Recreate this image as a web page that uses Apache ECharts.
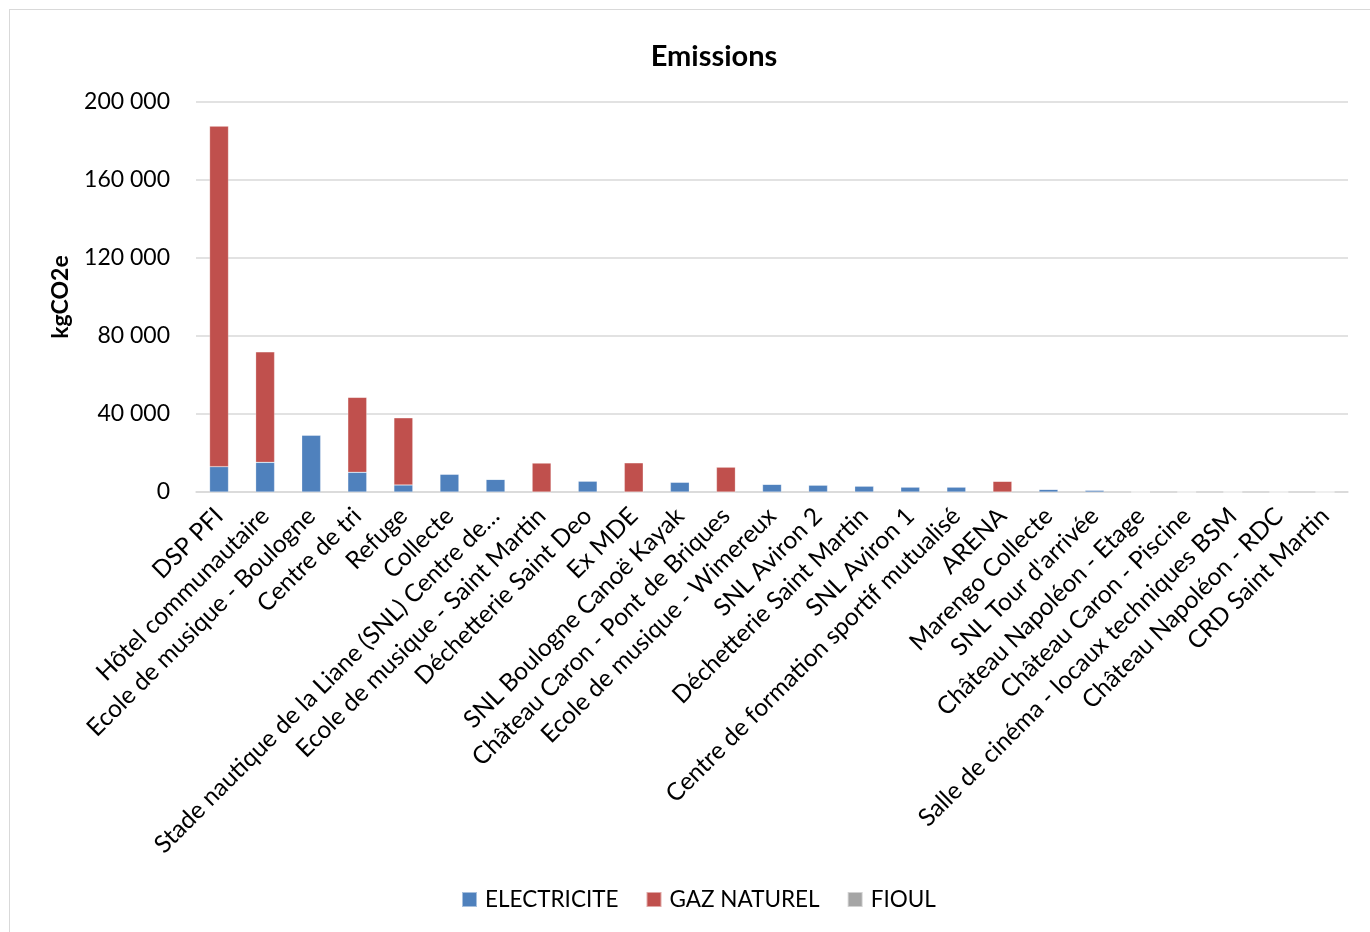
<!DOCTYPE html>
<html>
<head>
<meta charset="utf-8">
<script src="https://cdn.jsdelivr.net/npm/echarts@6/dist/echarts.min.js"></script>
<style>
  html, body { margin: 0; padding: 0; background: #fff; }
  #frame { position: absolute; left: 9px; top: 9px; width: 1370px; height: 940px; border: 1px solid #d9d9d9; box-sizing: border-box; }
  #chart { position: absolute; left: 0; top: 0; width: 1370px; height: 932px; }
</style>
</head>
<body>
<div id="frame"></div>
<div id="chart"></div>
<script>
// Sites, in descending order of total emissions
const sites = [
  'DSP PFI',
  'Hôtel communautaire',
  'Ecole de musique - Boulogne',
  'Centre de tri',
  'Refuge',
  'Collecte',
  'Stade nautique de la Liane (SNL) Centre de…',
  'Ecole de musique - Saint Martin',
  'Déchetterie Saint Deo',
  'Ex MDE',
  'SNL Boulogne Canoë Kayak',
  'Château Caron - Pont de Briques',
  'Ecole de musique - Wimereux',
  'SNL Aviron 2',
  'Déchetterie Saint Martin',
  'SNL Aviron 1',
  'Centre de formation sportif mutualisé',
  'ARENA',
  'Marengo Collecte',
  "SNL Tour d'arrivée",
  'Château Napoléon - Etage',
  'Château Caron - Piscine',
  'Salle de cinéma - locaux techniques BSM',
  'Château Napoléon - RDC',
  'CRD Saint Martin'
];

// Emissions in kgCO2e per energy source
const electricite = [13000, 15200, 29200, 10100, 3600, 9200, 6500, 0, 5650, 0, 5100, 0, 4000, 3600, 3100, 2600, 2600, 0, 1400, 1000, 0, 0, 0, 0, 0];
const gazNaturel  = [174700, 56700, 0, 38450, 34500, 0, 0, 14900, 0, 15000, 0, 12800, 0, 0, 0, 0, 0, 5500, 0, 0, 0, 0, 0, 0, 0];
const fioul       = [0, 0, 0, 0, 0, 0, 0, 0, 0, 0, 0, 0, 0, 0, 0, 0, 0, 0, 0, 0, 0, 0, 0, 0, 0];

const yTicks = { min: 0, max: 200000, step: 40000 };

const FONT = 'Lato, "Open Sans", sans-serif';

function fmtThousands(v) {
  return String(v).replace(/\B(?=(\d{3})+(?!\d))/g, ' ');
}

const chart = echarts.init(document.getElementById('chart'), null, { renderer: 'canvas' });

const barCommon = {
  type: 'bar',
  stack: 'total',
  barWidth: '41%',
  itemStyle: { borderColor: 'rgba(255,255,255,0.5)', borderWidth: 0.5 }
};

chart.setOption({
  backgroundColor: 'transparent',
  animation: false,
  title: {
    text: 'Emissions',
    left: 709,
    top: 37,
    textAlign: 'center',
    textStyle: { fontFamily: FONT, fontSize: 29, fontWeight: 'bold', color: '#000' }
  },
  legend: {
    bottom: 16,
    left: 456,
    itemWidth: 15,
    itemHeight: 15,
    itemGap: 27,
    icon: 'rect',
    textStyle: { fontFamily: FONT, fontSize: 22.5, color: '#000', padding: [0, 0, 0, 3] },
    data: ['ELECTRICITE', 'GAZ NATUREL', 'FIOUL']
  },
  grid: { left: 196, right: 22, top: 102, bottom: 440, containLabel: false },
  xAxis: {
    type: 'category',
    data: sites,
    axisLine: { lineStyle: { color: '#d9d9d9', width: 1.5 } },
    axisTick: { show: false },
    axisLabel: {
      interval: 0,
      rotate: 45,
      margin: 20,
      fontFamily: FONT,
      fontSize: 24.5,
      color: '#000'
    }
  },
  yAxis: {
    type: 'value',
    min: yTicks.min,
    max: yTicks.max,
    interval: yTicks.step,
    name: 'kgCO2e',
    nameLocation: 'middle',
    nameGap: 124,
    nameRotate: 90,
    nameTextStyle: { fontFamily: FONT, fontSize: 23, fontWeight: 'bold', color: '#000' },
    axisLine: { show: false },
    axisTick: { show: false },
    splitLine: { lineStyle: { color: '#d9d9d9', width: 1.5 } },
    axisLabel: {
      margin: 26,
      fontFamily: FONT,
      fontSize: 23,
      color: '#000',
      formatter: fmtThousands
    }
  },
  series: [
    Object.assign({}, barCommon, { name: 'ELECTRICITE', data: electricite, itemStyle: Object.assign({}, barCommon.itemStyle, { color: '#4f81bd' }) }),
    Object.assign({}, barCommon, { name: 'GAZ NATUREL', data: gazNaturel, itemStyle: Object.assign({}, barCommon.itemStyle, { color: '#c0504d' }) }),
    Object.assign({}, barCommon, { name: 'FIOUL', data: fioul, itemStyle: Object.assign({}, barCommon.itemStyle, { color: '#a5a5a5' }) })
  ]
});
</script>
</body>
</html>
